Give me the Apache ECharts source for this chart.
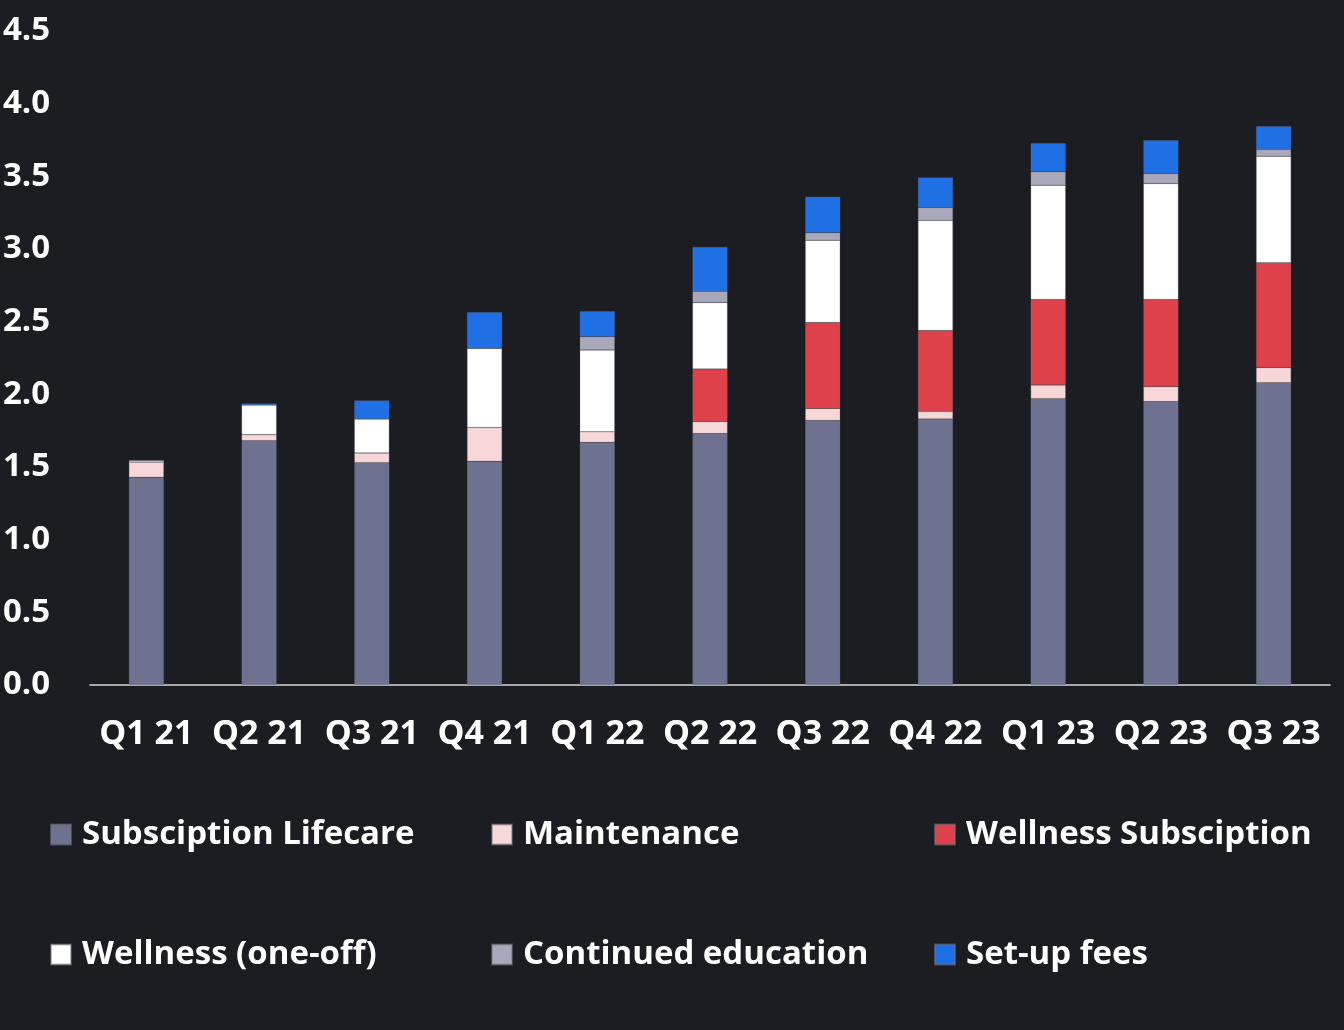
<!DOCTYPE html>
<html>
<head>
<meta charset="utf-8">
<script src="https://cdn.jsdelivr.net/npm/echarts@6/dist/echarts.min.js"></script>
<style>
html,body{margin:0;padding:0;background:#1c1d22;}
#chart{width:1344px;height:1030px;}
</style>
</head>
<body>
<div id="chart"></div>
<script>
const categories = ['Q1 21','Q2 21','Q3 21','Q4 21','Q1 22','Q2 22','Q3 22','Q4 22','Q1 23','Q2 23','Q3 23'];
const subscriptionLifecare = [1.43, 1.68, 1.53, 1.54, 1.67, 1.73, 1.82, 1.83, 1.97, 1.95, 2.08];
const maintenance          = [0.105, 0.043, 0.067, 0.232, 0.073, 0.083, 0.083, 0.053, 0.094, 0.103, 0.103];
const wellnessSubscription = [0, 0, 0, 0, 0, 0.361, 0.592, 0.557, 0.588, 0.599, 0.722];
const wellnessOneOff       = [0.01, 0.204, 0.234, 0.544, 0.562, 0.458, 0.566, 0.757, 0.787, 0.798, 0.734];
const continuedEducation   = [0, 0, 0, 0, 0.092, 0.078, 0.050, 0.089, 0.092, 0.069, 0.048];
const setupFees            = [0, 0.01, 0.126, 0.248, 0.174, 0.303, 0.248, 0.206, 0.197, 0.229, 0.158];
const yTicks = ['0.0','0.5','1.0','1.5','2.0','2.5','3.0','3.5','4.0','4.5'];

const seriesDefs = [
  {name:'Subsciption Lifecare', data:subscriptionLifecare, color:'#6f7191'},
  {name:'Maintenance', data:maintenance, color:'#f8d7d8'},
  {name:'Wellness Subsciption', data:wellnessSubscription, color:'#df414a'},
  {name:'Wellness (one-off)', data:wellnessOneOff, color:'#ffffff'},
  {name:'Continued education', data:continuedEducation, color:'#a9a8bb'},
  {name:'Set-up fees', data:setupFees, color:'#1f6fe5'}
];
const legendPos = [
  {left:45, top:813}, {left:486, top:813}, {left:929, top:813},
  {left:45, top:933}, {left:486, top:933}, {left:929, top:933}
];
const font = '"Open Sans", "Noto Sans", sans-serif';
const chart = echarts.init(document.getElementById('chart'));
chart.setOption({
  backgroundColor:'#1c1d22',
  animation:false,
  grid:{left:90, right:14, top:31, bottom:345},
  legend: seriesDefs.map((s,i)=>({
    data:[s.name], left:legendPos[i].left, top:legendPos[i].top,
    itemWidth:20, itemHeight:20, itemGap:0,
    icon:'rect',
    textStyle:{color:'#ffffff', fontSize:33, fontWeight:'bold', fontFamily:font, padding:[0,0,0,6]},
    selectedMode:false
  })),
  xAxis:{
    type:'category', data:categories,
    axisLine:{lineStyle:{color:'#d9d9d9', width:1.5}},
    axisTick:{show:false},
    axisLabel:{color:'#ffffff', fontSize:34, fontWeight:'bold', fontFamily:font, margin:32, interval:0}
  },
  yAxis:{
    type:'value', min:0, max:4.5, interval:0.5,
    splitLine:{show:false},
    axisLine:{show:false}, axisTick:{show:false},
    axisLabel:{color:'#ffffff', fontSize:33, fontWeight:'bold', fontFamily:font, margin:87, align:'left',
      formatter:(v)=>yTicks[Math.round(v/0.5)]}
  },
  series: seriesDefs.map(s=>({
    name:s.name, type:'bar', stack:'total', data:s.data, barWidth:35,
    itemStyle:{color:s.color, borderColor:'rgba(120,120,130,0.5)', borderWidth:0.5}
  }))
});
</script>
</body>
</html>
